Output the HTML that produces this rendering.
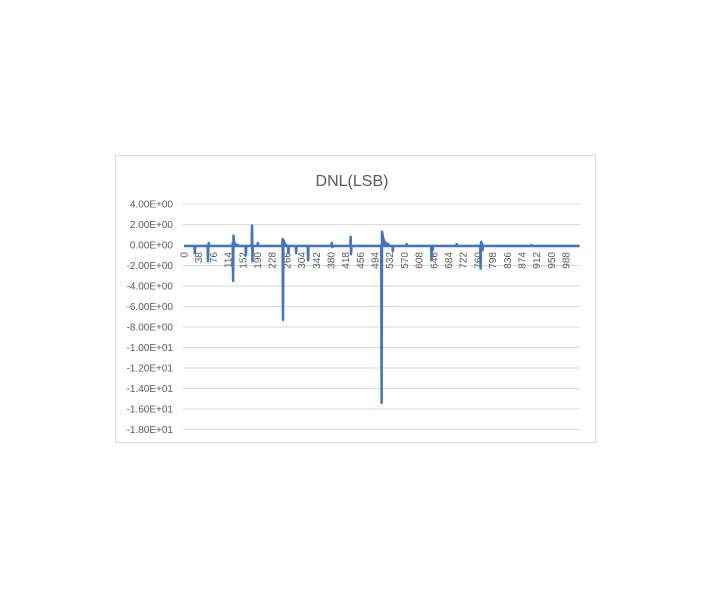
<!DOCTYPE html>
<html><head><meta charset="utf-8"><style>
body{margin:0;background:#fff;}
svg{display:block;font-family:"Liberation Sans",sans-serif;}
</style></head><body>
<svg id="chart" width="710" height="599">
<rect x="115.5" y="155.5" width="480" height="287" fill="#fff" stroke="#d9d9d9"/>
<text x="352" y="186" text-anchor="middle" font-size="16" fill="#595959">DNL(LSB)</text>
<g id="grid"></g><g id="yt"></g><g id="xt"></g><g id="series"></g>
</svg>
<script>
const yTicks=[4,2,0,-2,-4,-6,-8,-10,-12,-14,-16,-18];
const yTickLabels=["4.00E+00","2.00E+00","0.00E+00","-2.00E+00","-4.00E+00","-6.00E+00","-8.00E+00","-1.00E+01","-1.20E+01","-1.40E+01","-1.60E+01","-1.80E+01"];
const xTickLabels=[0,38,76,114,152,190,228,266,304,342,380,418,456,494,532,570,608,646,684,722,760,798,836,874,912,950,988];
const pointCount=1024;
const baseline=-0.1;
const spikeIdx=[28,62,64,126,127,128,129,130,132,135,140,160,176,177,191,255,256,257,258,259,260,262,265,270,290,321,382,384,431,432,450,511,512,513,514,515,517,520,525,530,540,576,640,643,705,767,768,770,772,898];
const spikeVal=[-0.8,-1.6,0.2,0.2,-3.5,0.9,0.5,0.3,0.15,0.05,0,-1.0,1.9,-1.6,0.2,0.6,-7.3,0.5,0.4,0.3,0.2,0.05,0,-0.8,-0.8,-1.5,0.2,-0.2,0.8,-0.9,-0.1,-15.4,1.3,1.1,0.9,0.7,0.5,0.3,0.15,0.05,-0.6,0.1,-1.5,-0.5,0.1,-2.3,0.3,0.2,-0.5,0];
const NS="http://www.w3.org/2000/svg";
const X0=184,X1=580,Y0=245,PPU=10.25;
function xs(i){return X0+i*(X1-X0)/pointCount;}
function ys(v){return Y0-v*PPU;}
function mk(t,a,p){const e=document.createElementNS(NS,t);for(const k in a)e.setAttribute(k,a[k]);p.appendChild(e);return e;}
const grid=document.getElementById('grid'),yt=document.getElementById('yt'),xt=document.getElementById('xt'),sg=document.getElementById('series');
yTicks.forEach((v,i)=>{
 const l=mk('line',{x1:183,x2:580,y1:ys(v),y2:ys(v),stroke:'#d9d9d9','stroke-width':1},grid);
 
 
 const t=mk('text',{x:173,y:ys(v)+3.5,'text-anchor':'end','font-size':10,fill:'#595959'},yt);
 t.textContent=yTickLabels[i];
 
 
});
xTickLabels.forEach(v=>{
 const x=xs(v)+3.5;
 const t=mk('text',{x:x,y:252,'text-anchor':'end','font-size':10,fill:'#595959',transform:`rotate(-90 ${x} 252)`},xt);
 t.textContent=v;
 
 
});
const vals=new Array(pointCount).fill(baseline);
spikeIdx.forEach((ix,k)=>{vals[ix]=spikeVal[k];});
let d='';
vals.forEach((v,i)=>{d+=(i?'L':'M')+xs(i).toFixed(2)+' '+ys(v).toFixed(2);});
const p=mk('path',{d:d,fill:'none',stroke:'#4472c4','stroke-width':2.5,'stroke-linejoin':'round'},sg);


</script>
</body></html>
